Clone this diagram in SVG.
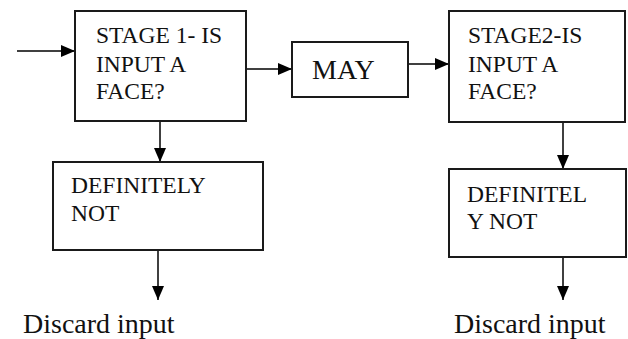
<svg xmlns="http://www.w3.org/2000/svg" width="628" height="339" viewBox="0 0 628 339">
<style>
.box{fill:#fff;stroke:#1a1a1a;stroke-width:2}
.t{font-family:"Liberation Serif","Times New Roman",serif;font-size:23.5px;fill:#111}
.big{font-family:"Liberation Serif","Times New Roman",serif;font-size:28px;fill:#111}
.c{stroke:#000;stroke-width:1.5;fill:none;marker-end:url(#ah)}
</style>
<defs>
<marker id="ah" markerWidth="14" markerHeight="12" refX="14" refY="6" orient="auto" markerUnits="userSpaceOnUse" viewBox="0 0 14 12">
<path d="M0,0 L14,6 L0,12 z" fill="#000"/>
</marker>
</defs>
<rect width="628" height="339" fill="#fff"/>
<g id="connectors">
<line class="c" x1="17" y1="51" x2="75" y2="51"/>
<line class="c" x1="246" y1="69" x2="292" y2="69"/>
<line class="c" x1="408" y1="64" x2="449" y2="64"/>
<line class="c" x1="160" y1="121" x2="160" y2="162"/>
<line class="c" x1="563" y1="122" x2="563" y2="169"/>
<line class="c" x1="158" y1="250" x2="158" y2="300"/>
<line class="c" x1="563" y1="257" x2="563" y2="300"/>
</g>
<g id="stage1">
<rect class="box" x="75" y="11" width="171" height="110"/>
<text class="t" x="96" y="43">STAGE 1- IS</text>
<text class="t" x="96" y="72">INPUT A</text>
<text class="t" x="96" y="99">FACE?</text>
</g>
<g id="may">
<rect class="box" x="292" y="42" width="116" height="55"/>
<text class="big" x="312" y="79">MAY</text>
</g>
<g id="stage2">
<rect class="box" x="449" y="11" width="176" height="111"/>
<text class="t" x="468" y="43">STAGE2-IS</text>
<text class="t" x="468" y="72">INPUT A</text>
<text class="t" x="468" y="99">FACE?</text>
</g>
<g id="def1">
<rect class="box" x="53" y="162" width="210" height="88"/>
<text class="t" x="71" y="193">DEFINITELY</text>
<text class="t" x="71" y="221">NOT</text>
</g>
<g id="def2">
<rect class="box" x="449" y="169" width="177" height="88"/>
<text class="t" x="467" y="202">DEFINITEL</text>
<text class="t" x="467" y="229">Y NOT</text>
</g>
<g id="discard1">
<text class="big" x="23" y="333">Discard input</text>
</g>
<g id="discard2">
<text class="big" x="454" y="333">Discard input</text>
</g>
</svg>
